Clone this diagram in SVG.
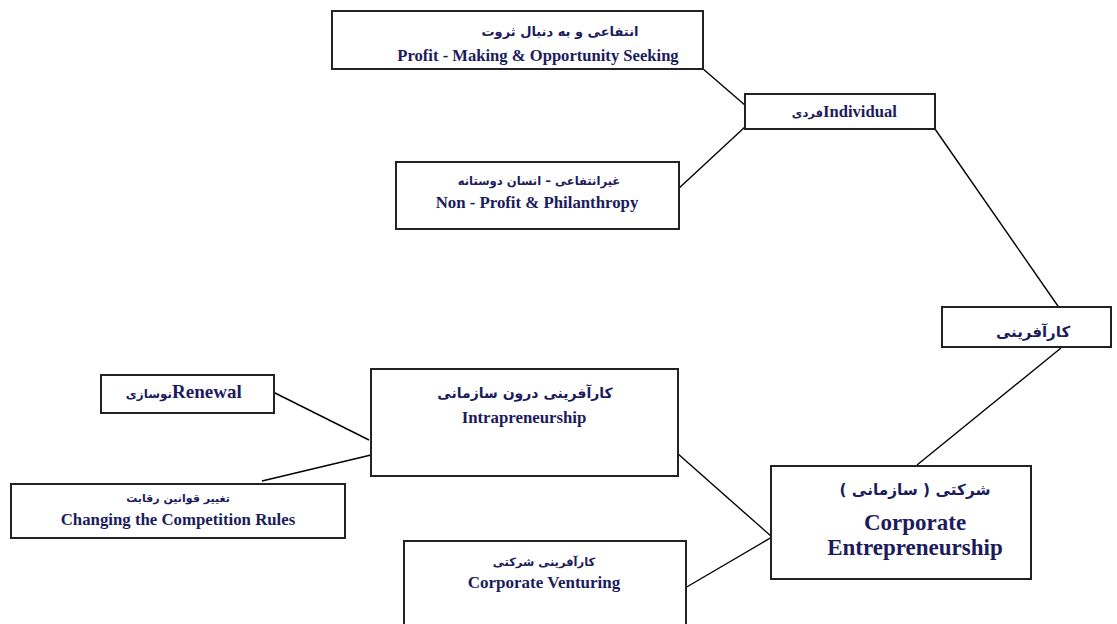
<svg xmlns="http://www.w3.org/2000/svg" width="1117" height="624" viewBox="0 0 1117 624">
  <style>
    .box { fill: #ffffff; stroke: #222222; stroke-width: 2; }
    .link { stroke: #000000; stroke-width: 1.4; fill: none; }
    .en { font-family: "Liberation Serif", "Times New Roman", serif; font-weight: bold; fill: #1c1c5c; }
    .fa { font-family: "DejaVu Sans", "Noto Sans", sans-serif; font-weight: bold; fill: #1c1c5c; }
    .c { text-anchor: middle; }
  </style>
  <rect width="1117" height="624" fill="#ffffff"/>

  <g id="connectors">
    <line class="link" x1="702" y1="68" x2="746" y2="106"/>
    <line class="link" x1="746" y1="126" x2="677" y2="190"/>
    <line class="link" x1="935" y1="129" x2="1060" y2="309"/>
    <line class="link" x1="1061" y1="348" x2="917" y2="465"/>
    <line class="link" x1="273" y1="392" x2="369" y2="440"/>
    <line class="link" x1="262" y1="481" x2="371" y2="455"/>
    <line class="link" x1="677" y1="453" x2="772" y2="537"/>
    <line class="link" x1="685" y1="588" x2="772" y2="537"/>
  </g>

  <g id="profit-making">
    <rect class="box" x="332" y="11" width="371" height="58"/>
    <text class="fa c" x="560" y="36" font-size="13">انتفاعی و به دنبال ثروت</text>
    <text class="en c" x="538" y="61" font-size="16.6">Profit - Making &amp; Opportunity Seeking</text>
  </g>

  <g id="non-profit">
    <rect class="box" x="396" y="162" width="283" height="67"/>
    <text class="fa c" x="539" y="185" font-size="11.6">غیرانتفاعی – انسان دوستانه</text>
    <text class="en c" x="537" y="208" font-size="16.8">Non - Profit &amp; Philanthropy</text>
  </g>

  <g id="individual">
    <rect class="box" x="745" y="94" width="190" height="35"/>
    <text class="en" x="823" y="117" font-size="16.6">Individual</text>
    <text class="fa" x="823" y="117" font-size="11.5" text-anchor="end">فردی</text>
  </g>

  <g id="entrepreneurship">
    <rect class="box" x="942" y="307" width="169" height="40"/>
    <text class="fa c" x="1033" y="337" font-size="15">کارآفرینی</text>
  </g>

  <g id="renewal">
    <rect class="box" x="101" y="375" width="173" height="38"/>
    <text class="en" x="172" y="398" font-size="19">Renewal</text>
    <text class="fa" x="172" y="398" font-size="12" text-anchor="end">نوسازی</text>
  </g>

  <g id="intrapreneurship">
    <rect class="box" x="371" y="369" width="307" height="107"/>
    <text class="fa c" x="525" y="398" font-size="14">کارآفرینی درون سازمانی</text>
    <text class="en c" x="524" y="423" font-size="16.8">Intrapreneurship</text>
  </g>

  <g id="competition-rules">
    <rect class="box" x="11" y="484" width="334" height="54"/>
    <text class="fa c" x="178" y="502" font-size="11">تغییر قوانین رقابت</text>
    <text class="en c" x="178" y="525" font-size="16.8">Changing the Competition Rules</text>
  </g>

  <g id="corporate-venturing">
    <rect class="box" x="404" y="541" width="282" height="95"/>
    <text class="fa c" x="544" y="566" font-size="11.5">کارآفرینی شرکتی</text>
    <text class="en c" x="544" y="588" font-size="17">Corporate Venturing</text>
  </g>

  <g id="corporate-entrepreneurship">
    <rect class="box" x="771" y="466" width="260" height="113"/>
    <text class="fa c" x="915" y="495" font-size="15.3">شرکتی ( سازمانی )</text>
    <text class="en c" x="915" y="530" font-size="23">Corporate</text>
    <text class="en c" x="915" y="555" font-size="23">Entrepreneurship</text>
  </g>
</svg>
